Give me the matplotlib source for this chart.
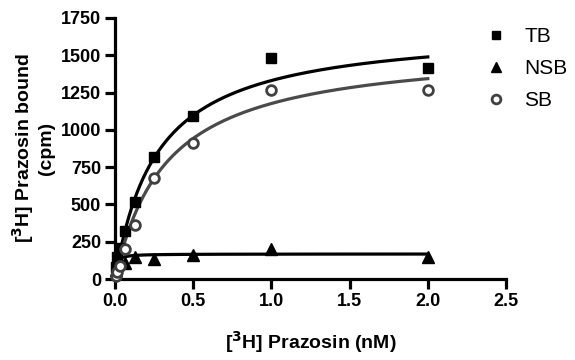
# Saturation binding of [3H]prazosin: total, non-specific and specific binding

import numpy as np
import matplotlib.pyplot as plt

plt.rcParams['font.family'] = ['Liberation Sans', 'DejaVu Sans']

# concentrations (nM)
conc = [0.0078, 0.0156, 0.03125, 0.0625, 0.125, 0.25, 0.5, 1.0, 2.0]

# bound (cpm)
tb = [80, 150, 210, 325, 515, 820, 1090, 1480, 1415]
nsb = [60, 95, 120, 110, 150, 135, 160, 200, 150]
sb = [20, 50, 90, 200, 360, 680, 915, 1265, 1265]

# one-site fit parameters (Bmax cpm, Kd nM)
tb_fit = (1690, 0.27)
sb_fit = (1565, 0.33)
nsb_fit = (168, 0.008)

xfit = np.linspace(0, 2.0, 400)

fig = plt.figure(figsize=(5.75, 3.6), dpi=100)
ax = fig.add_axes([0.2, 0.225, 0.68, 0.725])

def one_site(p, x):
    return p[0] * x / (p[1] + x)

ax.plot(xfit, one_site(tb_fit, xfit), color='black', lw=2.3, zorder=2)
ax.plot(xfit, one_site(sb_fit, xfit), color='#4a4a4a', lw=2.3, zorder=2)
ax.plot(xfit, one_site(nsb_fit, xfit), color='black', lw=2.3, zorder=2)

ax.plot(conc, tb, 's', color='black', ms=7, clip_on=False, zorder=3, label='TB')
ax.plot(conc, nsb, '^', color='black', ms=8, clip_on=False, zorder=3, label='NSB')
ax.plot(conc, sb, 'o', mfc='white', mec='#404040', mew=2, ms=7,
        clip_on=False, zorder=3, label='SB')

ax.set_xlim(0, 2.5)
ax.set_ylim(0, 1750)
ax.set_xticks([0.0, 0.5, 1.0, 1.5, 2.0, 2.5])
ax.set_xticklabels(['0.0', '0.5', '1.0', '1.5', '2.0', '2.5'])
ax.set_yticks(range(0, 1751, 250))

for s in ['top', 'right']:
    ax.spines[s].set_visible(False)
for s in ['left', 'bottom']:
    ax.spines[s].set_linewidth(2.3)
ax.tick_params(width=2.3, length=7, labelsize=13, pad=3)
for lab in ax.get_xticklabels() + ax.get_yticklabels():
    lab.set_fontweight('bold')

ax.set_xlabel(r'[$^{\mathbf{3}}$H] Prazosin (nM)', fontsize=14, fontweight='bold', labelpad=14)
ax.set_ylabel('[$^{\\mathbf{3}}$H] Prazosin bound\n(cpm)', fontsize=14, fontweight='bold', labelpad=4)

ax.legend(loc='upper left', bbox_to_anchor=(0.812, 0.977), bbox_transform=fig.transFigure,
          frameon=False, fontsize=15, handletextpad=0.85, labelspacing=0.62,
          handlelength=1.0, markerscale=0.9)

fig.savefig('out.png', dpi=100)
